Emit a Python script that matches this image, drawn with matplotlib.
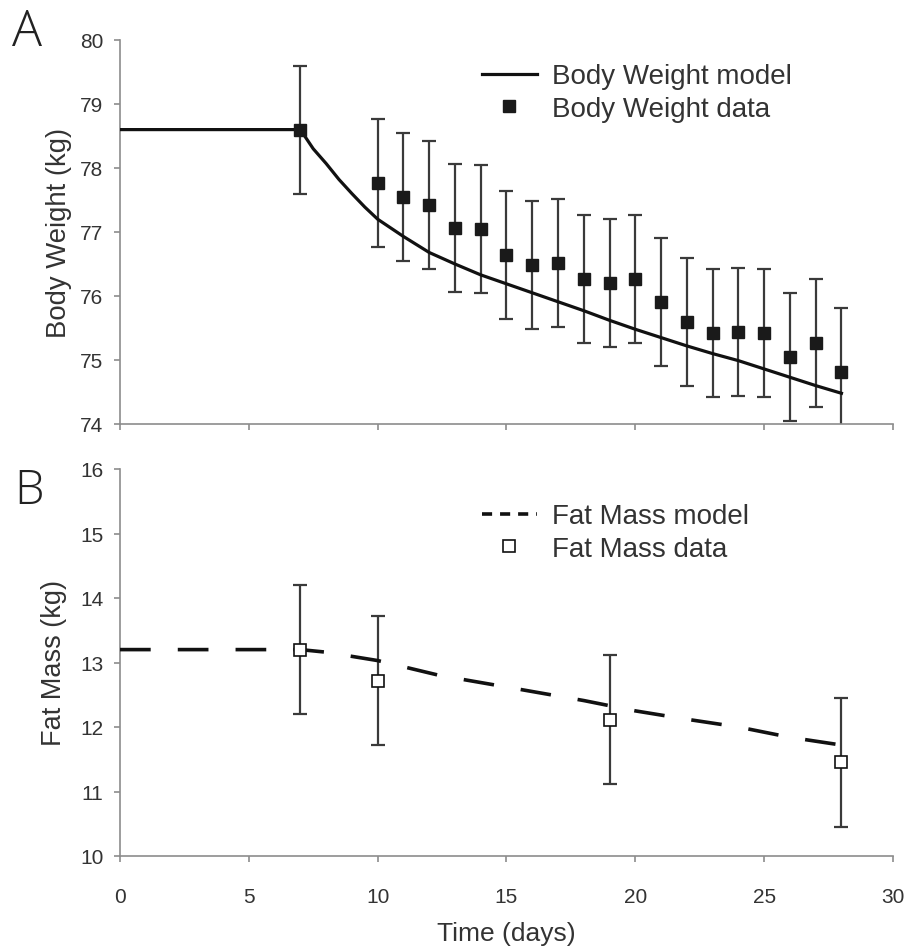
import matplotlib.pyplot as plt
from matplotlib.lines import Line2D

plt.rcParams['font.family'] = ['Liberation Sans', 'DejaVu Sans']

# body weight data (days, kg, +/- error)
bw_days = [7, 10, 11, 12, 13, 14, 15, 16, 17, 18, 19, 20, 21, 22, 23, 24, 25, 26, 27, 28]
bw_data = [78.59, 77.76, 77.55, 77.42, 77.07, 77.05, 76.64, 76.48, 76.51, 76.27,
           76.21, 76.27, 75.90, 75.60, 75.42, 75.44, 75.42, 75.04, 75.26, 74.81]
bw_err = [1.0] * len(bw_days)

# body weight model curve
bwm_days = [0, 7, 7.5, 8, 8.5, 9, 9.5, 10, 11, 12, 13, 14, 15, 16, 17, 18, 19, 20,
            21, 22, 23, 24, 25, 26, 27, 28]
bwm_vals = [78.6, 78.6, 78.3, 78.07, 77.82, 77.6, 77.39, 77.2, 76.93, 76.68, 76.5,
            76.33, 76.19, 76.05, 75.91, 75.77, 75.62, 75.48, 75.35, 75.22, 75.1,
            74.99, 74.86, 74.73, 74.6, 74.48]

# fat mass data
fm_days = [7, 10, 19, 28]
fm_data = [13.2, 12.72, 12.11, 11.45]
fm_err = [1.0, 1.0, 1.0, 1.0]

# fat mass model curve
fmm_days = [0, 7, 8, 10, 12.4, 15, 18, 19, 20, 22, 24, 25, 26, 28]
fmm_vals = [13.2, 13.2, 13.16, 13.03, 12.8, 12.62, 12.41, 12.33, 12.25, 12.12,
            12.0, 11.92, 11.84, 11.72]

W, H = 909, 953
fig = plt.figure(figsize=(W / 100, H / 100), dpi=100)
axA = fig.add_axes([120 / W, 1 - 425 / H, 773 / W, 384 / H])
axB = fig.add_axes([120 / W, 1 - 857 / H, 773 / W, 387 / H])

spine_c = '#8c8c8c'
text_c = '#333333'
leg_kw = dict(loc='upper left', frameon=False, fontsize=20, handlelength=1.98,
              handletextpad=0.54, labelspacing=0.24, borderpad=0,
              borderaxespad=0, labelcolor=text_c)

for ax in (axA, axB):
    for s in ('top', 'right'):
        ax.spines[s].set_visible(False)
    for s in ('left', 'bottom'):
        ax.spines[s].set_color(spine_c)
        ax.spines[s].set_linewidth(1.2)
    ax.set_xlim(0, 30)
    ax.set_xticks(range(0, 31, 5))
    ax.tick_params(direction='out', length=4, width=1.2, color=spine_c,
                   labelsize=15, labelcolor=text_c)
    ax.tick_params(axis='y', pad=8)
    ax.tick_params(axis='x', pad=18)

# panel A
axA.errorbar(bw_days, bw_data, yerr=bw_err, fmt='none', ecolor='#3a3a3a',
             elinewidth=1.6, capsize=5, capthick=1.6, zorder=2)
axA.plot(bwm_days, bwm_vals, color='#111111', lw=2.3, zorder=3,
         label='Body Weight model')
axA.plot(bw_days, bw_data, 's', color='#1a1a1a', ms=9, zorder=4,
         label='Body Weight data')
axA.set_ylim(74, 80)
axA.set_xticklabels([])
axA.set_ylabel('Body Weight (kg)', fontsize=19.8, color=text_c, labelpad=6)
axA.legend(bbox_to_anchor=(0.468, 0.939), **leg_kw)

# panel B
axB.errorbar(fm_days, fm_data, yerr=fm_err, fmt='none', ecolor='#3a3a3a',
             elinewidth=1.6, capsize=5, capthick=1.6, zorder=2)
axB.plot(fmm_days, fmm_vals, color='#111111', lw=2.6, dashes=(8.5, 7.5), zorder=3)
axB.plot(fm_days, fm_data, 's', mfc='white', mec='#111111', mew=1.2, ms=8.5, zorder=4)
axB.set_ylim(10, 16)
axB.set_ylabel('Fat Mass (kg)', fontsize=19.5, color=text_c, labelpad=9)
axB.set_xlabel('Time (days)', fontsize=19, color=text_c, labelpad=11)
fm_handles = [Line2D([], [], color='#111111', lw=2.6, dashes=(2.8, 2.2)),
              Line2D([], [], ls='none', marker='s', mfc='white', mec='#111111',
                     mew=1.2, ms=8.5)]
axB.legend(fm_handles, ['Fat Mass model', 'Fat Mass data'],
           bbox_to_anchor=(0.468, 0.911), **leg_kw)

# panel letters
fig.text(12 / W, 1 - 46 / H, 'A', fontsize=36, color='#222222',
         family=['Open Sans', 'DejaVu Sans'], fontweight='light')
fig.text(14 / W, 1 - 504 / H, 'B', fontsize=34, color='#222222',
         family=['Open Sans', 'DejaVu Sans'], fontweight='light')

fig.savefig('out.png', dpi=100)
